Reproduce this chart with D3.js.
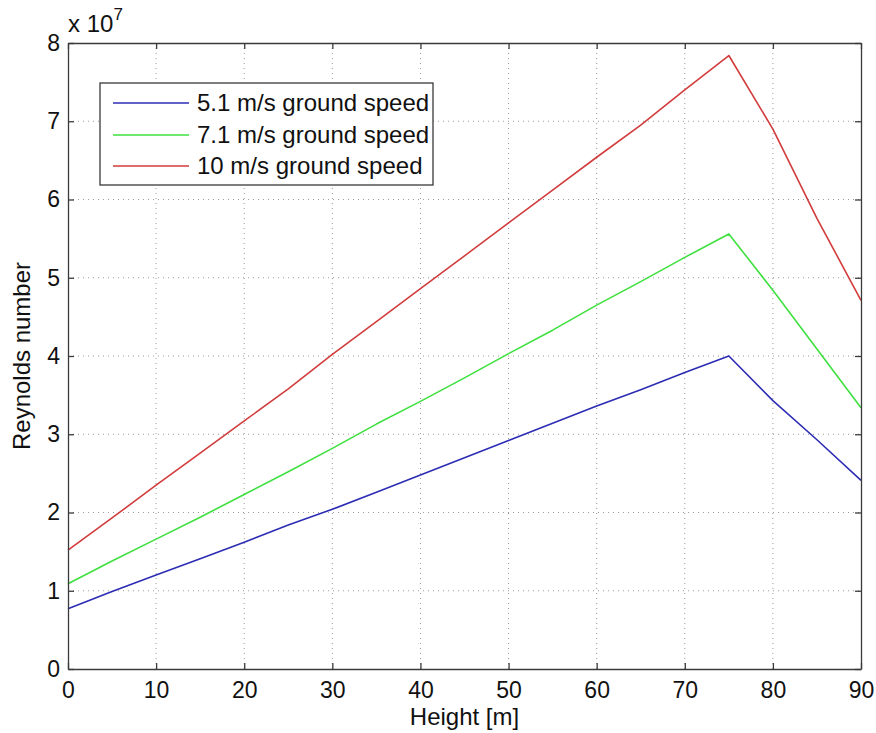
<!DOCTYPE html>
<html>
<head>
<meta charset="utf-8">
<script src="https://cdn.jsdelivr.net/npm/d3@7"></script>
<style>
  html, body { margin: 0; padding: 0; background: #fff; }
  svg { display: block; font-family: "Liberation Sans", Arial, sans-serif; }
</style>
</head>
<body>
<svg id="chart" width="876" height="733"></svg>
<script>
// Height above ground [m]
const heights = [0, 5, 10, 15, 20, 25, 30, 35, 40, 45, 50, 55, 60, 65, 70, 75, 80, 85, 90];

// Reynolds number (x 10^7) for each ground speed
const re51 = [0.77, 0.99, 1.20, 1.41, 1.62, 1.84, 2.04, 2.26, 2.48, 2.70, 2.92, 3.14, 3.36, 3.57, 3.79, 4.00, 3.43, 2.93, 2.41];
const re71 = [1.09, 1.38, 1.66, 1.94, 2.23, 2.52, 2.82, 3.13, 3.42, 3.72, 4.03, 4.33, 4.65, 4.95, 5.26, 5.56, 4.84, 4.09, 3.34];
const re10 = [1.52, 1.93, 2.35, 2.76, 3.17, 3.58, 4.02, 4.44, 4.86, 5.28, 5.70, 6.12, 6.54, 6.95, 7.40, 7.84, 6.90, 5.76, 4.71];

const seriesNames = ["5.1 m/s ground speed", "7.1 m/s ground speed", "10 m/s ground speed"];
const seriesColors = ["#2c2cb4", "#3fe03f", "#d23c3c"];
const seriesValues = [re51, re71, re10];

const xTicks = [0, 10, 20, 30, 40, 50, 60, 70, 80, 90];
const yTicks = [0, 1, 2, 3, 4, 5, 6, 7, 8];

(function draw() {
  const svg = d3.select("#chart");
  const pLeft = 68, pRight = 861, pTop = 43, pBottom = 669;

  const x = d3.scaleLinear().domain([0, 90]).range([pLeft, pRight]);
  const y = d3.scaleLinear().domain([0, 8]).range([pBottom, pTop]);

  const axisColor = "#3a3a3a";
  const tickFont = 23;
  const titleFont = 24;

  // dotted grid
  const grid = svg.append("g");
  grid.selectAll("line.gx").data(xTicks.slice(1, -1)).enter().append("line")
    .attr("x1", d => x(d)).attr("x2", d => x(d))
    .attr("y1", pTop).attr("y2", pBottom)
    .attr("stroke", "#9a9a9a").attr("stroke-width", 1)
    .attr("stroke-dasharray", "1,4");
  grid.selectAll("line.gy").data(yTicks.slice(1, -1)).enter().append("line")
    .attr("x1", pLeft).attr("x2", pRight)
    .attr("y1", d => y(d)).attr("y2", d => y(d))
    .attr("stroke", "#9a9a9a").attr("stroke-width", 1)
    .attr("stroke-dasharray", "1,4");

  // data lines
  const line = d3.line().x((d, i) => x(heights[i])).y(d => y(d));
  seriesValues.forEach((vals, k) => {
    svg.append("path").datum(vals)
      .attr("d", line)
      .attr("fill", "none")
      .attr("stroke", seriesColors[k])
      .attr("stroke-width", 1.6)
      .attr("stroke-linejoin", "round");
  });

  // axes: bottom/left with labels, top/right mirror ticks, ticks pointing inward
  const tickLen = 6;
  function styleAxis(g) {
    g.select(".domain").attr("stroke", axisColor).attr("stroke-width", 1.3);
    g.selectAll(".tick line").attr("stroke", axisColor).attr("stroke-width", 1.3);
    g.selectAll(".tick text").attr("fill", "#111").attr("font-size", tickFont)
      .attr("font-family", "Liberation Sans, Arial, sans-serif");
  }
  svg.append("g").attr("transform", `translate(0,${pBottom})`)
    .call(d3.axisBottom(x).tickValues(xTicks).tickFormat(d3.format("d"))
      .tickSizeInner(-tickLen).tickSizeOuter(0).tickPadding(13))
    .call(styleAxis);
  svg.append("g").attr("transform", `translate(0,${pTop})`)
    .call(d3.axisTop(x).tickValues(xTicks).tickFormat("")
      .tickSizeInner(-tickLen).tickSizeOuter(0))
    .call(styleAxis);
  svg.append("g").attr("transform", `translate(${pLeft},0)`)
    .call(d3.axisLeft(y).tickValues(yTicks).tickFormat(d3.format("d"))
      .tickSizeInner(-tickLen).tickSizeOuter(0).tickPadding(8))
    .call(styleAxis);
  svg.append("g").attr("transform", `translate(${pRight},0)`)
    .call(d3.axisRight(y).tickValues(yTicks).tickFormat("")
      .tickSizeInner(-tickLen).tickSizeOuter(0))
    .call(styleAxis);

  // exponent label
  const expo = svg.append("text").attr("x", 68).attr("y", 32)
    .attr("font-size", 24).attr("fill", "#111");
  expo.append("tspan").text("x 10");
  expo.append("tspan").attr("dy", -12).attr("font-size", 17).text("7");

  // axis titles
  svg.append("text").attr("x", (pLeft + pRight) / 2).attr("y", 725)
    .attr("text-anchor", "middle").attr("font-size", titleFont).attr("fill", "#111")
    .text("Height [m]");
  svg.append("text").attr("transform", `translate(30,${(pTop + pBottom) / 2}) rotate(-90)`)
    .attr("text-anchor", "middle").attr("font-size", titleFont).attr("fill", "#111")
    .text("Reynolds number");

  // legend
  const lg = svg.append("g");
  lg.append("rect").attr("x", 100).attr("y", 83).attr("width", 333).attr("height", 102)
    .attr("fill", "#fff").attr("stroke", axisColor).attr("stroke-width", 1.3);
  const rowY = [103, 135, 166];
  seriesNames.forEach((name, k) => {
    const cy = rowY[k];
    lg.append("line").attr("x1", 113).attr("x2", 189).attr("y1", cy).attr("y2", cy)
      .attr("stroke", seriesColors[k]).attr("stroke-width", 1.6);
    lg.append("text").attr("x", 197).attr("y", cy + 8)
      .attr("font-size", titleFont).attr("fill", "#111").text(name);
  });
})();
</script>
</body>
</html>
